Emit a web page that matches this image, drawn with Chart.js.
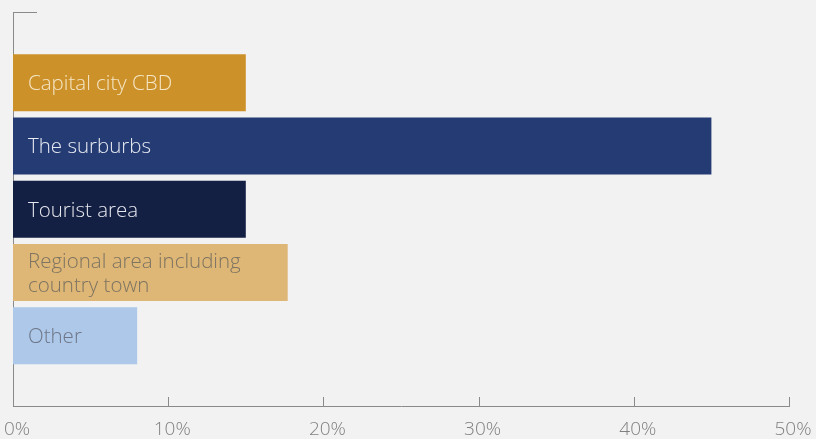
<!DOCTYPE html>
<html>
<head>
<meta charset="utf-8">
<script src="https://cdn.jsdelivr.net/npm/chart.js@4.4.1/dist/chart.umd.min.js"></script>
<style>
  html, body { margin: 0; padding: 0; background: #f2f2f2; }
  #wrap { width: 816px; height: 439px; position: relative; }
</style>
</head>
<body>
<div id="wrap"><canvas id="c" width="816" height="439"></canvas></div>
<script>
// Where people live — share of respondents by area
const categories = ['Capital city CBD', 'The surburbs', 'Tourist area', ['Regional area including', 'country town'], 'Other'];
const shares = [15, 45, 15, 17.7, 8];
const barColors = ['#cd912a', '#253b74', '#131f43', '#deb675', '#adc8e8'];
const labelColors = ['#f5e6c6', '#e8ebf2', '#e6e8ee', '#7d7462', '#6e7688'];
const xTicks = [0, 10, 20, 30, 40, 50];

const AXIS = '#8a8a8a';
const FONT = "'Open Sans', 'Liberation Sans', sans-serif";

// Category names are written inside each bar, near its base
const barLabels = {
  id: 'barLabels',
  afterDatasetsDraw(chart) {
    const ctx = chart.ctx;
    const meta = chart.getDatasetMeta(0);
    ctx.save();
    ctx.font = '300 20.5px ' + FONT;
    ctx.textBaseline = 'middle';
    ctx.textAlign = 'left';
    meta.data.forEach((bar, i) => {
      const lines = Array.isArray(categories[i]) ? categories[i] : [categories[i]];
      const lh = 24;
      const y0 = bar.y + 1.5 - (lines.length - 1) * lh / 2;
      ctx.fillStyle = labelColors[i];
      lines.forEach((t, k) => ctx.fillText(t, bar.base + 15, y0 + k * lh));
    });
    ctx.restore();
  }
};

// Inward tick marks on the value axis and the short cap at the top of the category axis
const axisMarks = {
  id: 'axisMarks',
  afterDraw(chart) {
    const ctx = chart.ctx;
    const xs = chart.scales.x;
    const area = chart.chartArea;
    ctx.save();
    ctx.strokeStyle = AXIS;
    ctx.lineWidth = 1;
    xs.ticks.forEach(t => {
      const px = Math.round(xs.getPixelForValue(t.value)) + 0.5;
      ctx.beginPath();
      ctx.moveTo(px, area.bottom);
      ctx.lineTo(px, area.bottom - 9);
      ctx.stroke();
    });
    ctx.beginPath();
    ctx.moveTo(area.left, area.top + 0.5);
    ctx.lineTo(area.left + 24, area.top + 0.5);
    ctx.stroke();
    ctx.restore();
  }
};

new Chart(document.getElementById('c'), {
  type: 'bar',
  data: {
    datasets: [{
      data: shares.map((v, i) => ({ x: v, y: i })),
      backgroundColor: barColors,
      borderWidth: 0,
      barPercentage: 0.9,
      categoryPercentage: 1
    }]
  },
  options: {
    indexAxis: 'y',
    responsive: false,
    animation: false,
    layout: { padding: { left: 13, right: 27, top: 12, bottom: 0 } },
    plugins: { legend: { display: false }, tooltip: { enabled: false } },
    scales: {
      x: {
        type: 'linear',
        min: 0,
        max: 50,
        afterBuildTicks: s => { s.ticks = xTicks.map(v => ({ value: v })); },
        afterFit: s => { s.height = 33; s.paddingLeft = 0; s.paddingRight = 0; },
        grid: { display: false, drawTicks: false },
        border: { display: true, color: AXIS, width: 1 },
        ticks: {
          padding: 12,
          labelOffset: 4,
          color: '#808080',
          font: { family: FONT, size: 19, weight: 300 },
          callback: v => v + '%'
        }
      },
      y: {
        type: 'linear',
        reverse: true,
        offset: false,
        min: -1.12,
        max: 5.11,
        afterFit: s => { s.width = 0; s.paddingTop = 0; s.paddingBottom = 0; },
        grid: { display: false, drawTicks: false, offset: false },
        border: { display: true, color: AXIS, width: 1 },
        ticks: { display: false }
      }
    }
  },
  plugins: [barLabels, axisMarks]
});
</script>
</body>
</html>
